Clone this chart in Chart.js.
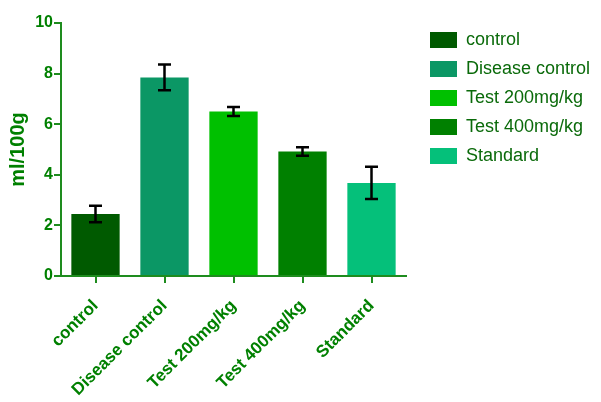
<!DOCTYPE html>
<html>
<head>
<meta charset="utf-8">
<script src="https://cdn.jsdelivr.net/npm/chart.js@4.4.0/dist/chart.umd.min.js"></script>
<style>
  html, body { margin: 0; padding: 0; background: #fff; }
  #wrap { width: 601px; height: 402px; position: relative; }
</style>
</head>
<body>
<div id="wrap"><canvas id="chart"></canvas></div>
<script>
  // グループ名
  var categories = ['control', 'Disease control', 'Test 200mg/kg', 'Test 400mg/kg', 'Standard'];
  // 平均値 (ml/100g)
  var means = [2.45, 7.85, 6.5, 4.92, 3.68];
  // 誤差 (±)
  var errors = [0.33, 0.51, 0.18, 0.17, 0.64];
  var yTicks = [0, 2, 4, 6, 8, 10];

  var barColors = ['#005a00', '#0b9765', '#00c000', '#008000', '#05c07a'];
  var axisGreen = '#1e8c1e';
  var textGreen = '#008000';
  var FONT = '"Liberation Sans", Arial, sans-serif';

  /** エラーバー描画 */
  var errorBarPlugin = {
    id: 'errorBars',
    afterDatasetsDraw: function(chart) {
      var ctx = chart.ctx;
      var meta = chart.getDatasetMeta(0);
      var yScale = chart.scales.y;
      ctx.save();
      ctx.strokeStyle = '#000';
      ctx.lineWidth = 2.5;
      meta.data.forEach(function(bar, i) {
        var top = yScale.getPixelForValue(means[i] + errors[i]);
        var bot = yScale.getPixelForValue(means[i] - errors[i]);
        var x = bar.x;
        var cap = 6.5;
        ctx.beginPath();
        ctx.moveTo(x, top); ctx.lineTo(x, bot);
        ctx.moveTo(x - cap, top); ctx.lineTo(x + cap, top);
        ctx.moveTo(x - cap, bot); ctx.lineTo(x + cap, bot);
        ctx.stroke();
      });
      ctx.restore();
    }
  };

  /** 凡例の幅を固定（既定では幅の1/4に制限されるため） */
  var legendWidthPlugin = {
    id: 'legendWidth',
    beforeLayout: function(chart) {
      var lg = chart.legend;
      if (lg && !lg._wPatched) {
        var origUpdate = lg.update;
        lg.update = function(maxW, maxH, margins) {
          origUpdate.call(this, 195, maxH, margins);
          this.width = 195;
        };
        lg._wPatched = true;
      }
    },
    afterLayout: function(chart) {
      var lg = chart.legend;
      if (!lg) return;
      lg.left += 13; lg.right += 13;
      lg.top -= 3; lg.bottom -= 3;
    }
  };

  new Chart(document.getElementById('chart'), {
    type: 'bar',
    data: {
      labels: categories,
      datasets: [{
        data: means,
        backgroundColor: barColors,
        borderWidth: 0,
        barPercentage: 0.7,
        categoryPercentage: 1.0
      }]
    },
    options: {
      responsive: true,
      maintainAspectRatio: false,
      animation: false,
      layout: { padding: { top: 23, right: 0, bottom: 0, left: 0 } },
      plugins: {
        tooltip: { enabled: false },
        legend: {
          position: 'right',
          align: 'start',
          labels: {
            boxWidth: 27,
            boxHeight: 16,
            padding: 11,
            color: '#0a6a0a',
            font: { family: FONT, size: 18 },
            generateLabels: function() {
              return categories.map(function(c, i) {
                return { text: c, fillStyle: barColors[i], strokeStyle: barColors[i], lineWidth: 0, fontColor: '#0a6a0a', index: i };
              });
            }
          }
        }
      },
      scales: {
        x: {
          afterFit: function(s) { s.height = 126; },
          border: { display: true, color: axisGreen, width: 2 },
          grid: { display: true, offset: false, drawOnChartArea: false, drawTicks: true, tickLength: 7, color: axisGreen, lineWidth: 2 },
          ticks: {
            color: textGreen,
            font: { family: FONT, size: 17, weight: 'bold' },
            minRotation: 45,
            maxRotation: 45,
            padding: 13
          }
        },
        y: {
          min: 0,
          max: 10,
          afterFit: function(s) { s.width = 61; },
          afterBuildTicks: function(s) { s.ticks = yTicks.map(function(v) { return { value: v }; }); },
          border: { display: true, color: axisGreen, width: 2 },
          grid: { display: true, drawOnChartArea: false, drawTicks: true, tickLength: 7, color: axisGreen, lineWidth: 2 },
          ticks: {
            color: textGreen,
            font: { family: FONT, size: 16, weight: 'bold' },
            padding: 1
          },
          title: {
            display: true,
            text: 'ml/100g',
            color: textGreen,
            font: { family: FONT, size: 20, weight: 'bold' },
            padding: { top: 6, bottom: 0 }
          }
        }
      }
    },
    plugins: [errorBarPlugin, legendWidthPlugin]
  });
</script>
</body>
</html>
